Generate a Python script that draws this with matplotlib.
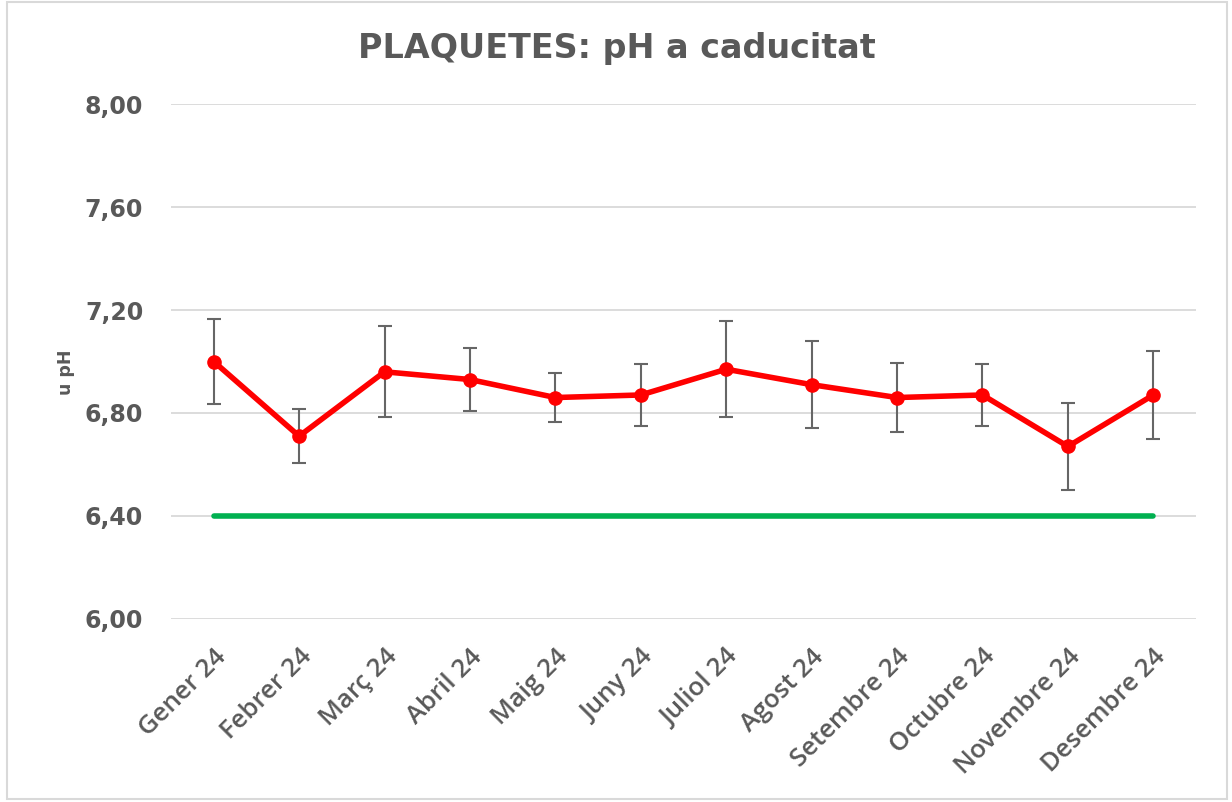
import matplotlib
matplotlib.use('Agg')
from matplotlib import pyplot as plt
from matplotlib.ticker import FuncFormatter
from matplotlib.patches import Rectangle

months = ['Gener 24', 'Febrer 24', 'Març 24', 'Abril 24', 'Maig 24', 'Juny 24',
          'Juliol 24', 'Agost 24', 'Setembre 24', 'Octubre 24', 'Novembre 24', 'Desembre 24']
ph_mean = [7.00, 6.71, 6.96, 6.93, 6.86, 6.87, 6.97, 6.91, 6.86, 6.87, 6.67, 6.87]
ph_err = [0.165, 0.105, 0.177, 0.122, 0.096, 0.121, 0.187, 0.170, 0.135, 0.120, 0.170, 0.170]
ph_limit = [6.40] * len(months)
yticks = [6.00, 6.40, 6.80, 7.20, 7.60, 8.00]

grey = '#595959'


def make_figure():
    fig = plt.figure(figsize=(12.32, 8.02), dpi=100)
    fig.patches.append(Rectangle((0.006, 0.004), 0.99, 0.994, transform=fig.transFigure,
                                 fill=False, edgecolor='#d9d9d9', linewidth=1.5))
    ax = fig.add_axes([0.1388, 0.2282, 0.8320, 0.6421])

    x = list(range(len(months)))
    ax.plot(x, ph_limit, color='#00b050', linewidth=4, solid_capstyle='round', zorder=2)
    ax.errorbar(x, ph_mean, yerr=ph_err, fmt='none', ecolor='#666666', elinewidth=1.5,
                capsize=5, capthick=1.5, zorder=3)
    ax.plot(x, ph_mean, color='#ff0000', linewidth=4, marker='o', markersize=9.5, zorder=4)

    ax.set_xlim(-0.5, len(months) - 0.5)
    ax.set_ylim(6.0, 8.0)
    ax.set_yticks(yticks)
    ax.yaxis.set_major_formatter(FuncFormatter(lambda v, p: f'{v:.2f}'.replace('.', ',')))
    ax.set_xticks(x)
    ax.set_xticklabels(months, rotation=45, ha='right', rotation_mode='anchor',
                       fontsize=18.5, fontweight='semibold', color=grey, family='Open Sans')
    ax.tick_params(axis='x', length=0, pad=18)
    ax.tick_params(axis='y', length=0, pad=20, labelsize=17, labelcolor=grey)
    for lab in ax.get_yticklabels():
        lab.set_fontweight('bold')

    ax.grid(axis='y', color='#d9d9d9', linewidth=1.3)
    ax.set_axisbelow(True)
    for s in ax.spines.values():
        s.set_visible(False)

    ax.set_ylabel('u pH', fontsize=12.5, fontweight='bold', color=grey)
    ax.yaxis.set_label_coords(-0.094, 0.48)
    fig.text(0.501, 0.94, 'PLAQUETES: pH a caducitat', ha='center', va='center',
             fontsize=24, fontweight='bold', color=grey)

    plt.savefig('out.png', dpi=100)


if __name__ == '__main__':
    make_figure()
